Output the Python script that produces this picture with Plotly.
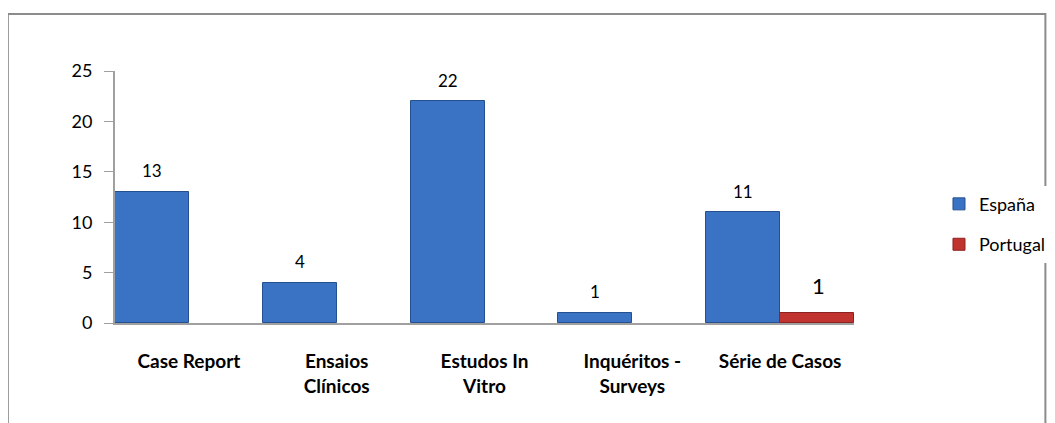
import plotly.graph_objects as go

categorias = ["Case Report", "Ensaios<br>Clínicos", "Estudos In<br>Vitro", "Inquéritos -<br>Surveys", "Série de Casos"]
espana = [13, 4, 22, 1, 11]
portugal = [None, None, None, None, 1]

fig = go.Figure()
fig.add_trace(go.Bar(
    x=categorias, y=espana, name="España", legendgroup="es",
    marker=dict(color="#3A72C4", line=dict(color="#24508F", width=1)),
))
fig.add_trace(go.Bar(
    x=categorias, y=portugal, name="Portugal", legendgroup="pt",
    marker=dict(color="#C0332E", line=dict(color="#8E2220", width=1)),
))

# data labels (a bit above the bars, like the 3D tops in the original)
for c, v in zip(categorias, espana):
    fig.add_annotation(x=c, y=v, text=str(v), showarrow=False, xref="x", yref="y",
                       xshift=-37, yshift=21, font=dict(size=17, color="black"))
for c, v in zip(categorias, portugal):
    if v is not None:
        fig.add_annotation(x=c, y=v, text=str(v), showarrow=False, xref="x", yref="y",
                           xshift=38, yshift=27, font=dict(size=22, color="black"))

fig.update_layout(
    width=1055, height=423,
    margin=dict(l=107, r=204, t=63, b=108),
    barmode="group", bargap=0, bargroupgap=0,
    plot_bgcolor="white", paper_bgcolor="white",
    font=dict(family="Lato, 'Open Sans', sans-serif", size=17, color="black"),
    showlegend=True,
    legend=dict(x=1.115, y=0.545, xanchor="left", yanchor="top",
                font=dict(size=18), tracegroupgap=14, itemwidth=30),
)
fig.update_xaxes(
    showline=True, linecolor="#A0A0A0", linewidth=2,
    ticks="", showgrid=False,
    tickvals=categorias, ticktext=["<b>" + c + "</b>" for c in categorias],
    tickfont=dict(size=19), ticklabelstandoff=20,
)
fig.update_yaxes(
    range=[0, 25], dtick=5, showgrid=False, zeroline=False,
    showline=True, linecolor="#A0A0A0", linewidth=2,
    ticks="outside", ticklen=9, tickcolor="#A0A0A0",
    tickfont=dict(size=18), ticklabelstandoff=8,
)
fig.update_traces(cliponaxis=False)

# chart frame
fig.add_shape(type="rect", xref="paper", yref="paper",
              x0=-0.145, x1=1.259, y0=-0.41, y1=1.226,
              line=dict(color="#8C8C8C", width=2), layer="below")

fig.write_html("out.html")
